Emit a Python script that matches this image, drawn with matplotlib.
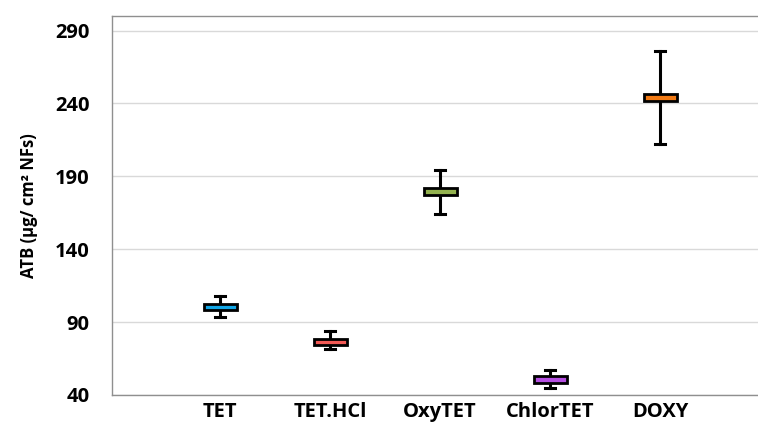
import matplotlib
matplotlib.use("Agg")
import matplotlib.pyplot as plt

# antibiotic loading per drug (µg/cm² NFs)
drugs = ["TET", "TET.HCl", "OxyTET", "ChlorTET", "DOXY"]
low = [93.6, 71.5, 164.3, 45.0, 211.9]
q1 = [98.0, 74.0, 177.2, 48.5, 241.7]
med = [100.3, 76.3, 179.5, 50.8, 244.1]
q3 = [102.6, 78.6, 181.8, 53.1, 246.5]
high = [107.8, 83.8, 194.1, 57.1, 276.3]
colors = ["#12a6e6", "#f25a55", "#93b24f", "#b44ee0", "#f27a14"]

plt.rcParams['font.family'] = ['Open Sans', 'DejaVu Sans']

fig = plt.figure(figsize=(7.58, 4.30), dpi=100)
ax = fig.add_axes([112 / 758, 35 / 430, 646 / 758, 379 / 430])

stats = []
for i in range(len(drugs)):
    stats.append({'whislo': low[i], 'q1': q1[i], 'med': med[i],
                  'q3': q3[i], 'whishi': high[i], 'label': drugs[i]})

pos = list(range(1, len(drugs) + 1))
bp = ax.bxp(stats, positions=pos, widths=0.3, patch_artist=True,
            showfliers=False, capwidths=0.09,
            whiskerprops=dict(color='black', linewidth=2.2),
            capprops=dict(color='black', linewidth=2.2),
            boxprops=dict(edgecolor='black', linewidth=2.0),
            medianprops=dict(linewidth=0))
for patch, c in zip(bp['boxes'], colors):
    patch.set_facecolor(c)
    patch.set_zorder(4)

ax.set_xlim(0.018, 5.89)
ax.set_ylim(40, 300)
ax.set_yticks([40, 90, 140, 190, 240, 290])
ax.set_xticks(pos)
ax.set_xticklabels(drugs)
ax.yaxis.grid(True, color='#d9d9d9', linewidth=1)
ax.set_axisbelow(True)

ax.tick_params(axis='both', length=0, labelsize=14.5)
ax.tick_params(axis='y', pad=16)
ax.tick_params(axis='x', pad=5)
for lab in ax.get_xticklabels() + ax.get_yticklabels():
    lab.set_fontweight('bold')

ax.set_ylabel("ATB (µg/ cm² NFs)", fontsize=12, fontweight='bold', labelpad=12)

for side in ['left', 'top', 'bottom']:
    ax.spines[side].set_color('#8f8f8f')
    ax.spines[side].set_linewidth(1)
ax.spines['right'].set_visible(False)

fig.savefig("out.png", dpi=100)
